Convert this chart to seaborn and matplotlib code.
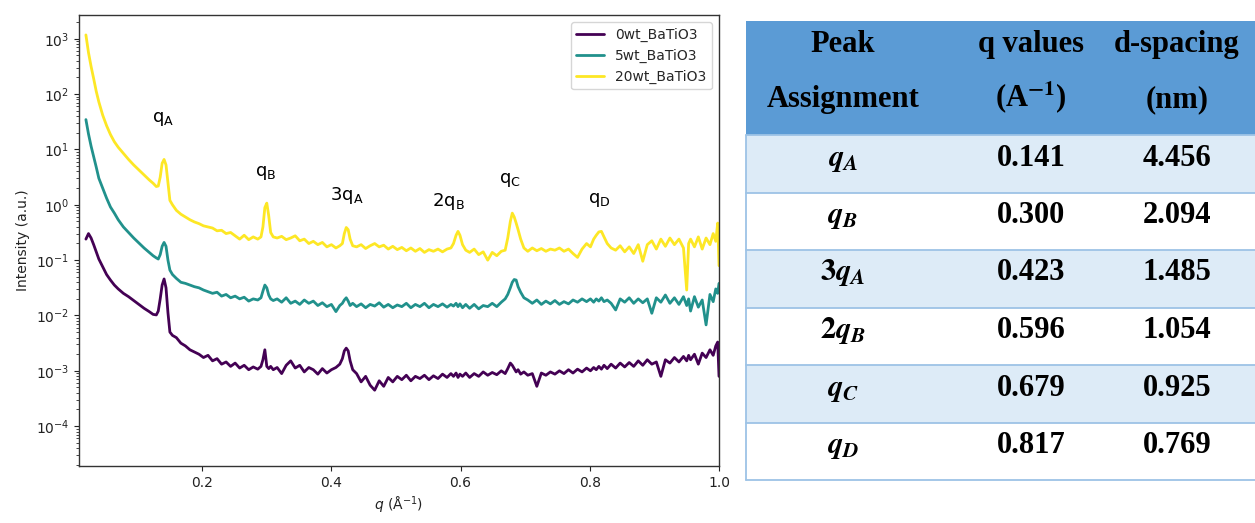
import numpy as np
import pandas as pd
import matplotlib
matplotlib.use("Agg")
import matplotlib.pyplot as plt
from matplotlib.ticker import LogLocator, NullFormatter, FixedLocator
from matplotlib.patches import Rectangle
import seaborn as sns

# ---------------- data ----------------
q_grid = [
    0.020, 0.024, 0.028, 0.032, 0.036, 0.040, 0.046, 0.052, 0.058, 0.064, 0.070, 0.078, 0.086, 0.094, 0.102, 0.110, 0.118, 0.124, 0.129,
    0.132, 0.135, 0.138, 0.141, 0.144, 0.147, 0.150, 0.154,
    0.160, 0.167, 0.174, 0.181, 0.188, 0.195, 0.202, 0.209, 0.216, 0.223, 0.230, 0.237, 0.244, 0.251, 0.258, 0.265, 0.272, 0.279, 0.286,
    0.291, 0.294, 0.297, 0.300, 0.303, 0.306, 0.310,
    0.316, 0.323, 0.330, 0.337, 0.344, 0.351, 0.358, 0.365, 0.372, 0.379, 0.386, 0.393, 0.400, 0.407, 0.413,
    0.417, 0.420, 0.423, 0.426, 0.429, 0.433,
    0.439, 0.446, 0.453, 0.460, 0.467, 0.474, 0.481, 0.488, 0.495, 0.502, 0.509, 0.516, 0.523, 0.530, 0.537, 0.544, 0.551, 0.558, 0.565, 0.572, 0.579, 0.585,
    0.589, 0.593, 0.596, 0.599, 0.603, 0.608,
    0.614, 0.621, 0.628, 0.635, 0.642, 0.649, 0.656, 0.663, 0.669,
    0.673, 0.677, 0.680, 0.683, 0.686, 0.689, 0.693, 0.698,
    0.704, 0.711, 0.718, 0.725, 0.732, 0.739, 0.746, 0.753, 0.760, 0.767, 0.774, 0.781, 0.788, 0.795, 0.801,
    0.806, 0.810, 0.814, 0.818, 0.822, 0.827,
    0.833, 0.840, 0.847, 0.854, 0.861, 0.868, 0.875, 0.882, 0.889, 0.896, 0.903, 0.910, 0.917, 0.924, 0.931, 0.938, 0.945, 0.950, 0.953, 0.956, 0.962, 0.968, 0.974, 0.980, 0.986, 0.991, 0.995, 0.998, 1.000,
]

# log10 of intensity (a.u.)
log_I_20wt = [
    3.07, 2.75, 2.50, 2.28, 2.05, 1.86, 1.62, 1.43, 1.27, 1.14, 1.04, 0.93, 0.82, 0.72, 0.63, 0.54, 0.45, 0.39, 0.33,
    0.34, 0.50, 0.75, 0.82, 0.72, 0.40, 0.08, 0.00,
    -0.10, -0.17, -0.22, -0.27, -0.31, -0.34, -0.38, -0.40, -0.42, -0.47, -0.46, -0.52, -0.50, -0.56, -0.62, -0.55, -0.63, -0.58, -0.62,
    -0.58, -0.40, -0.05, 0.03, -0.20, -0.50, -0.58,
    -0.60, -0.57, -0.63, -0.60, -0.56, -0.65, -0.62, -0.70, -0.66, -0.72, -0.68, -0.76, -0.72, -0.78, -0.74,
    -0.70, -0.52, -0.41, -0.45, -0.62, -0.74,
    -0.76, -0.72, -0.79, -0.74, -0.70, -0.76, -0.73, -0.80, -0.75, -0.81, -0.77, -0.83, -0.78, -0.84, -0.79, -0.86, -0.81, -0.84, -0.80, -0.85, -0.80, -0.78,
    -0.70, -0.55, -0.48, -0.55, -0.72, -0.82,
    -0.86, -0.80, -0.90, -0.85, -1.00, -0.86, -0.92, -0.84, -0.82,
    -0.60, -0.30, -0.15, -0.22, -0.33, -0.45, -0.62, -0.78,
    -0.84, -0.78, -0.83, -0.79, -0.84, -0.80, -0.82, -0.78, -0.84, -0.80, -0.88, -0.95, -0.80, -0.70, -0.76,
    -0.62, -0.55, -0.49, -0.48, -0.58, -0.70,
    -0.78, -0.82, -0.74, -0.85, -0.76, -0.88, -0.72, -1.02, -0.72, -0.65, -0.80, -0.62, -0.75, -0.60, -0.72, -0.62, -0.78, -1.54, -0.70, -0.62, -0.76, -0.58, -0.80, -0.60, -0.72, -0.52, -0.66, -0.33, -1.10,
]

log_I_5wt = [
    1.54, 1.28, 1.06, 0.87, 0.68, 0.48, 0.30, 0.12, -0.04, -0.15, -0.27, -0.40, -0.50, -0.60, -0.69, -0.78, -0.86, -0.92, -0.96,
    -0.98, -0.90, -0.75, -0.68, -0.75, -1.00, -1.18, -1.26,
    -1.33, -1.40, -1.42, -1.45, -1.48, -1.50, -1.54, -1.57, -1.60, -1.58, -1.65, -1.62, -1.68, -1.65, -1.70, -1.67, -1.74, -1.70, -1.72,
    -1.68, -1.56, -1.45, -1.50, -1.63, -1.70, -1.73,
    -1.70, -1.76, -1.68, -1.78, -1.74, -1.80, -1.72, -1.78, -1.74, -1.82, -1.77, -1.84, -1.80, -1.93, -1.82,
    -1.78, -1.72, -1.68, -1.74, -1.82, -1.78,
    -1.84, -1.79, -1.86, -1.80, -1.83, -1.77, -1.85, -1.80, -1.86, -1.81, -1.84, -1.78, -1.86, -1.80, -1.84, -1.78, -1.86, -1.80, -1.84, -1.79, -1.85, -1.80,
    -1.83, -1.78, -1.84, -1.79, -1.86, -1.80,
    -1.87, -1.80, -1.88, -1.82, -1.84, -1.78, -1.84, -1.76, -1.70,
    -1.62, -1.50, -1.40, -1.35, -1.36, -1.48, -1.58, -1.68,
    -1.72, -1.78, -1.72, -1.80, -1.74, -1.79, -1.73, -1.80, -1.75, -1.79, -1.72, -1.76, -1.70, -1.75, -1.70,
    -1.76, -1.70, -1.74, -1.68, -1.75, -1.72,
    -1.78, -1.90, -1.70, -1.76, -1.68, -1.78, -1.70, -1.77, -1.70, -1.96, -1.68, -1.76, -1.63, -1.78, -1.68, -1.80, -1.66, -1.82, -1.70, -1.92, -1.66, -1.85, -1.72, -2.17, -1.62, -1.75, -1.52, -1.60, -1.42,
]

log_I_0wt = [
    -0.62, -0.52, -0.60, -0.72, -0.85, -0.98, -1.12, -1.26, -1.36, -1.45, -1.52, -1.60, -1.66, -1.73, -1.80, -1.87, -1.93, -1.98, -1.99,
    -1.92, -1.70, -1.45, -1.34, -1.50, -1.95, -2.30, -2.36,
    -2.40, -2.50, -2.55, -2.62, -2.66, -2.70, -2.76, -2.72, -2.82, -2.78, -2.88, -2.84, -2.92, -2.86, -2.95, -2.90, -2.98, -2.93, -2.97,
    -2.92, -2.80, -2.62, -2.92, -2.96, -2.92, -2.98,
    -2.94, -3.05, -2.90, -2.82, -2.95, -2.90, -3.02, -2.94, -2.98, -3.06, -2.96, -3.04, -2.98, -2.94, -2.88,
    -2.78, -2.64, -2.59, -2.64, -2.82, -2.98,
    -3.05, -3.20, -3.10, -3.26, -3.35, -3.18, -3.28, -3.12, -3.20, -3.10, -3.16, -3.08, -3.18, -3.10, -3.14, -3.08, -3.16, -3.09, -3.14, -3.06, -3.12, -3.05,
    -3.10, -3.04, -3.12, -3.06, -3.10, -3.04,
    -3.12, -3.05, -3.10, -3.02, -3.08, -3.03, -3.07, -3.00, -3.05,
    -2.96, -2.86, -2.90, -2.96, -3.02, -2.98, -3.06, -3.02,
    -3.08, -3.05, -3.28, -3.04, -3.08, -3.02, -3.06, -3.00, -3.05, -2.98, -3.04, -2.97, -3.02, -2.95, -3.00,
    -2.94, -2.98, -2.92, -2.97, -2.90, -2.96,
    -2.88, -2.95, -2.86, -2.93, -2.85, -2.92, -2.82, -2.90, -2.80, -2.88, -2.84, -3.10, -2.80, -2.86, -2.76, -2.84, -2.74, -2.82, -2.72, -2.80, -2.70, -2.88, -2.68, -2.76, -2.62, -2.72, -2.55, -2.48, -3.10,
]

samples = ["0wt_BaTiO3", "5wt_BaTiO3", "20wt_BaTiO3"]
sample_colors = ["#440154", "#21918c", "#fde725"]

peak_labels = ["q$_\\mathrm{A}$", "q$_\\mathrm{B}$", "3q$_\\mathrm{A}$",
               "2q$_\\mathrm{B}$", "q$_\\mathrm{C}$", "q$_\\mathrm{D}$"]
peak_label_q = [0.140, 0.299, 0.424, 0.581, 0.677, 0.815]
peak_label_I = [35.0, 3.8, 1.5, 1.15, 2.8, 1.23]

# table
table_header_1 = ["Peak", "q values", "d-spacing"]
table_header_2 = ["Assignment", "(A$^{\\mathbf{-1}}$)", "(nm)"]
table_assign = [r"$\mathbfit{q}_{\mathbfit{A}}$", r"$\mathbfit{q}_{\mathbfit{B}}$",
                r"$\mathbf{3}\mathbfit{q}_{\mathbfit{A}}$", r"$\mathbf{2}\mathbfit{q}_{\mathbfit{B}}$",
                r"$\mathbfit{q}_{\mathbfit{C}}$", r"$\mathbfit{q}_{\mathbfit{D}}$"]
table_q = ["0.141", "0.300", "0.423", "0.596", "0.679", "0.817"]
table_d = ["4.456", "2.094", "1.485", "1.054", "0.925", "0.769"]

# ---------------- build frame ----------------
rows = []
for name, logs in zip(samples, [log_I_0wt, log_I_5wt, log_I_20wt]):
    for q, lg in zip(q_grid, logs):
        rows.append((name, q, 10.0 ** lg))
df = pd.DataFrame(rows, columns=["sample", "q", "I"])

sns.set_style("ticks")
plt.rcParams["font.family"] = ["DejaVu Sans"]

W, H = 1255, 523
fig = plt.figure(figsize=(W / 100, H / 100), dpi=100)

# ---------------- table (pixel coordinates overlay) ----------------
tax = fig.add_axes([0, 0, 1, 1])
tax.set_xlim(0, W)
tax.set_ylim(H, 0)
tax.set_xticks([])
tax.set_yticks([])
for sp in tax.spines.values():
    sp.set_visible(False)
tax.patch.set_visible(False)

x0, x1 = 746, W
head_top, head_bot = 20.5, 135
row_h = 57.5
header_col = "#5B9BD5"
light_col = "#DDEBF7"
line_col = "#9DC3E6"
col_x = [843, 1031, 1177]

tax.add_patch(Rectangle((x0, head_top), x1 - x0, head_bot - head_top, facecolor=header_col, edgecolor="none"))
for i in range(len(table_q)):
    top = head_bot + i * row_h
    fc = light_col if i % 2 == 0 else "white"
    tax.add_patch(Rectangle((x0, top), x1 - x0, row_h, facecolor=fc, edgecolor="none"))
    tax.plot([x0, x1], [top, top], color=line_col, lw=1.3)
bottom = head_bot + len(table_q) * row_h
tax.plot([x0, x1], [bottom, bottom], color=line_col, lw=1.3)
tax.plot([x0, x0], [head_bot, bottom], color=line_col, lw=1.3)

tfont = dict(family="Liberation Serif", weight="bold", fontsize=22, color="black")
for cx, h1, h2 in zip(col_x, table_header_1, table_header_2):
    tax.text(cx, 52, h1, ha="center", va="baseline", math_fontfamily="stix", **tfont)
    tax.text(cx, 107, h2, ha="center", va="baseline", math_fontfamily="stix", **tfont)
for i, (a, qv, dv) in enumerate(zip(table_assign, table_q, table_d)):
    base = head_bot + i * row_h + 30.5
    tax.text(col_x[0], base, a, ha="center", va="baseline", math_fontfamily="stix", **tfont)
    tax.text(col_x[1], base, qv, ha="center", va="baseline", **tfont)
    tax.text(col_x[2], base, dv, ha="center", va="baseline", **tfont)

# ---------------- SAXS plot ----------------
ax = fig.add_axes([79 / W, 1 - 466 / H, (719 - 79) / W, (466 - 15) / H])
sns.lineplot(data=df, x="q", y="I", hue="sample", hue_order=samples,
             palette=sample_colors, linewidth=2, estimator=None, sort=False, ax=ax)
ax.set_yscale("log")
ax.set_xlim(0.0093, 1.0)
ax.set_ylim(10 ** -4.72, 10 ** 3.43)
ax.xaxis.set_major_locator(FixedLocator([0.2, 0.4, 0.6, 0.8, 1.0]))
ax.yaxis.set_major_locator(LogLocator(base=10, numticks=20))
ax.yaxis.set_minor_locator(LogLocator(base=10, subs=np.arange(2, 10), numticks=100))
ax.yaxis.set_minor_formatter(NullFormatter())
ax.tick_params(axis="both", labelsize=10, colors="#222222")
for sp in ax.spines.values():
    sp.set_color("#333333")
    sp.set_linewidth(1.0)

ax.set_xlabel(r"$q$ ($\mathrm{\AA}^{-1}$)", fontsize=10, color="#222222")
ax.set_ylabel("Intensity (a.u.)", fontsize=10, color="#222222")

for lab, lq, li in zip(peak_labels, peak_label_q, peak_label_I):
    ax.text(lq, li, lab, ha="center", va="center", fontsize=13, color="black")

handles, labels = ax.get_legend_handles_labels()
ax.legend(handles, labels, loc="upper right", fontsize=10, frameon=True)

fig.savefig("out.png", dpi=100)
